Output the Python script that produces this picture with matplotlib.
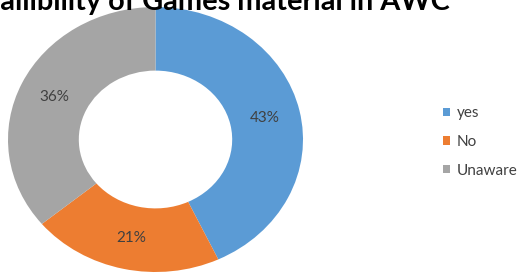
import matplotlib.pyplot as plt
from matplotlib.patches import Patch

# data
labels = ['yes', 'No', 'Unaware']
shares = [43, 21, 36]
colors = ['#5B9BD5', '#ED7D31', '#A5A5A5']
title = 'Availibility of Games material in AWC'

plt.rcParams['font.family'] = ['Lato', 'DejaVu Sans']

W, H = 521, 273
fig = plt.figure(figsize=(W / 100, H / 100), dpi=100)

# donut axes (slightly squashed like the original)
ax = fig.add_axes([8 / W, 1 / H, 295 / W, 265 / H])
wedges, texts, autotexts = ax.pie(
    shares, colors=colors, startangle=90, counterclock=False,
    autopct='%d%%', pctdistance=0.76,
    wedgeprops=dict(width=0.48, edgecolor='none'),
    textprops=dict(color='#404040', fontsize=11))
ax.set_aspect('auto')
ax.set_xlim(-1, 1)
ax.set_ylim(-1, 1)

# title, clipped at the top and left edges
fig.text(450 / W, 1 - 10 / H, title, ha='right', va='baseline',
         fontsize=20.8, fontweight='bold', color='black')

# legend
handles = [Patch(facecolor=c, edgecolor='none') for c in colors]
fig.legend(handles, labels, loc='center left', bbox_to_anchor=(429 / W, 1 - 142 / H),
           frameon=False, fontsize=11, labelcolor='#404040',
           handlelength=0.5, handleheight=0.5, handletextpad=0.4,
           labelspacing=0.95)

fig.savefig('out.png', dpi=100)
